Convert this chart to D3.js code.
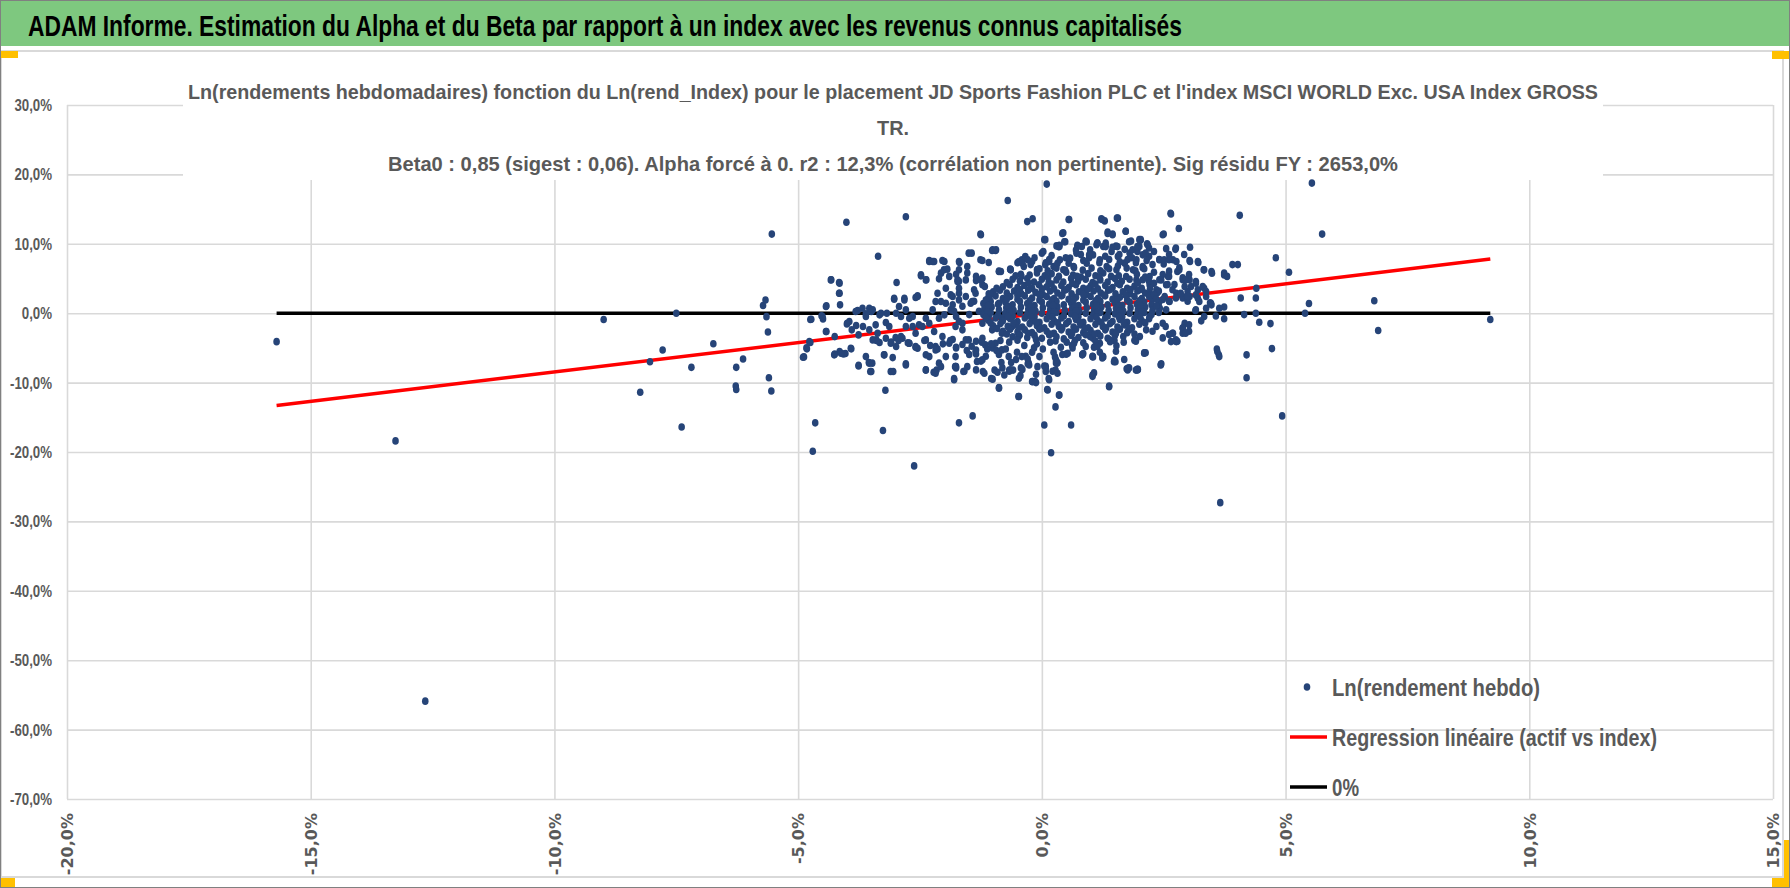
<!DOCTYPE html>
<html><head><meta charset="utf-8">
<script src="https://cdn.jsdelivr.net/npm/d3@7"></script>
<style>html,body{margin:0;padding:0;background:#fff;} svg{display:block;}</style>
</head><body>
<svg id="chart" width="1790" height="888"></svg>
<script>
const mainTitle = "ADAM Informe. Estimation du Alpha et du Beta par rapport à un index avec les revenus connus capitalisés";
const subtitleLines = [
  "Ln(rendements hebdomadaires) fonction du Ln(rend_Index) pour le placement JD Sports Fashion PLC et l'index MSCI WORLD Exc. USA Index GROSS",
  "TR.",
  "Beta0 : 0,85 (sigest : 0,06). Alpha forcé à 0. r2 : 12,3% (corrélation non pertinente). Sig résidu FY : 2653,0%"
];
const legendLabels = ["Ln(rendement hebdo)", "Regression linéaire (actif vs index)", "0%"];
const xTicks = [-20, -15, -10, -5, 0, 5, 10, 15];
const yTicks = [30, 20, 10, 0, -10, -20, -30, -40, -50, -60, -70];
const regressionLine = [[-15.7, -13.3], [9.2, 7.8]];
const zeroLine = [[-15.7, 0], [9.2, 0]];

// [Ln(rend_Index) %, Ln(rendement hebdo) %]
const outlierPoints = [
[-15.7,-4.1],[-13.26,-18.4],[-12.65,-55.9],[-8.99,-0.9],[-8.24,-11.4],[-8.04,-7.0],[-7.78,-5.3],[-7.5,0.0],[-7.39,-16.4],[-7.19,-7.8],[-6.74,-4.4],[-6.27,-7.8],[-6.13,-6.6],[-6.28,-10.5],[-6.27,-11.0],[-5.72,1.1],[-5.67,1.9],[-5.65,-0.5],[-5.62,-2.7],[-5.6,-9.3],[-5.55,-11.2],[-5.54,11.4],[-4.88,-6.3],[-4.83,-5.0],[-4.77,-4.1],[-4.75,-0.9],[-4.65,-15.8],[-4.70,-19.9],[-4.01,13.1],[-2.79,13.9],[-3.36,8.2],[-3.26,-16.9],[-2.62,-22.0],[-3.21,-11.1],[-1.70,-15.8],[-1.42,-14.8],[-0.88,-10.7],[-0.48,-12.0],[0.05,-16.1],[0.19,-20.1],[0.28,-13.5],[0.35,-11.8],[0.6,-16.1],[1.38,-10.5],[3.66,-27.3],[4.2,-9.3],[4.93,-14.8],[5.54,18.75],[5.75,11.4],[4.06,14.1],[0.1,18.6],[-0.7,16.25],[9.2,-0.9],[6.82,1.8],[6.9,-2.5],[-1.26,11.4],[-0.3,13.2],[-0.19,13.6],[0.05,10.6],[0.3,9.7]
];
const rightPoints = [
[2.64,14.4],[2.81,12.2],[2.5,11.4],[2.74,9.2],[3.04,9.5],[2.16,10.0],[2.2,9.4],[2.02,10.5],[1.72,11.8],[1.56,13.7],[1.22,13.6],[1.29,13.3],[0.56,13.5],[0.44,11.6],[0.48,10.3],[0.36,9.6],[0.92,10.3],[4.8,8.0],[5.07,5.9],[3.91,7.0],[3.74,5.8],[3.8,5.3],[3.48,6.0],[3.32,6.25],[3.21,7.3],[3.03,7.6],[4.4,3.6],[4.39,2.2],[4.08,2.2],[5.48,1.4],[5.4,0.0],[4.39,0.0],[4.15,-0.2],[4.46,-1.3],[4.69,-1.5],[3.74,0.9],[3.74,-0.8],[3.57,-0.4],[3.48,1.2],[3.45,1.5],[3.27,-1.1],[2.13,-5.7],[2.45,-7.3],[1.9,-3.9],[1.53,-4.7],[1.51,-7.0],[1.77,-7.9],[1.97,-8.1],[1.26,-6.3],[1.05,-6.3],[0.85,-5.8],[0.5,-5.9],[0.31,-7.2],[0.27,-6.3],[3.59,-5.15],[3.63,-6.0],[4.2,-6.0],[4.72,-5.1],[2.74,-4.0],[1.35,11.7],[1.45,11.4],
[2.55,4.09],[2.59,5.29],[2.41,4.81],[2.35,3.37],[2.21,2.88],[2.52,2.4],[2.62,1.68],[2.76,2.88],[2.82,6.25],[2.89,4.81],[2.93,3.85],[2.99,3.12],[3.03,4.81],[3.16,4.57],[3.2,3.37],[3.33,3.6],[3.37,2.4],[3.2,2.16],[3.03,2.4],[2.89,2.4],[3.37,0.72],[3.16,0.48],[3.33,-0.48],[3.15,0.38],[2.93,-1.44],[2.89,-2.88],[2.69,-2.88],[2.76,-4.09],[2.21,-0.48],[2.35,-1.92],[2.48,-1.44],[2.55,0.48],[2.28,0.96],[2.41,1.68],[2.07,1.44],[2.14,-2.4],[2.01,-3.37],[1.8,-2.4],[1.67,-3.37],[1.39,-3.85],[1.19,-4.33],[0.99,-3.37],[2.41,7.7],[2.69,7.7],[2.76,7.45],
[1.8,8.65],[1.94,7.7],[2.07,8.41],[1.87,6.25],[1.7,7.21],[1.56,8.17],[1.43,8.89],[1.26,9.62],[1.12,9.86],[0.99,9.13],[0.82,9.62],[0.71,8.65],[0.58,7.93],[0.37,7.69],[0.24,6.73],[0.44,6.25],[0.65,6.73],[0.92,7.21],[1.19,7.69],[1.33,6.73],[1.53,6.25],[1.73,5.29],[1.94,4.81],[2.07,4.81],[2.21,5.29],[2.21,4.09],[2.07,6.73],[2.01,3.37]
];
const haloPoints = [
[2.27,1.97],[2.48,1.97],[2.61,1.73],[2.75,2.2],[2.89,2.2],[2.99,1.73],[1.93,-4.04],[2.1,-5.7],[2.27,-2.6],[2.48,-3.56],[2.61,-3.08],[2.78,-4.04],[2.89,-2.1],[3.02,-2.6],[1.79,-7.88],[1.96,-8.1],[2.44,-7.4],
[-1.83,-3.8],[-1.76,-5.0],[-1.63,-4.5],[-1.49,-5.96],[-1.35,-4.04],[-1.25,-6.9],[-1.15,-6.2],[-1.01,-5.0],[-0.88,-5.96],[-0.81,-7.88],[-0.67,-8.37],[-0.53,-6.68],[-0.43,-7.88],[-0.33,-6.2],[-0.16,-5.0],[0.08,-7.64],[0.29,-7.16],[0.42,-5.96],[0.63,-5.0],[0.83,-5.96],[1.04,-6.2],[1.24,-6.44],[1.52,-5.48],[1.69,-6.68],[-1.76,-7.88],[-1.59,-8.37],[0.22,-8.37],[1.07,-8.6],
[0.36,9.8],[0.73,9.8],[0.9,10.4],[1.14,10.1],[1.31,10.1],[1.52,9.66],[1.83,10.4],[2.0,10.6],[1.96,8.9],[2.2,8.2],[2.61,8.46],[2.75,9.4],[2.92,8.46],
[-1.53,5.8],[-1.35,4.7],[-1.22,4.1],[-1.7,4.6],[-1.76,5.6],[-0.88,6.06],[-0.64,6.3],[-0.5,7.26],[-0.43,5.6],[-0.23,7.0],[-0.09,6.3],[0.08,7.26],[0.15,7.74],[0.29,6.8],[0.49,8.0],[0.8,8.46],[0.97,8.0],[1.18,7.26],[1.38,7.74],[1.59,8.46],[1.76,7.74],[1.93,7.26],[2.07,6.54],[2.27,7.0],[2.41,7.74],[2.48,5.58],[2.61,6.06],[2.82,6.54],[2.89,5.1],[3.02,5.58],[2.72,4.13],[2.58,4.13],[2.37,2.93],[2.2,4.6],
[-1.8,0.29],[-1.63,1.0],[-1.49,-0.2],[-1.7,-1.15],[-1.39,1.73],[-1.29,0.29]
];
const leftPoints = [
[-4.32,4.81],[-4.15,4.33],[-4.15,2.88],[-4.14,1.2],[-4.42,1.06],[-4.52,-0.38],[-4.49,-0.82],[-4.73,-0.87],[-4.42,-2.64],[-4.25,-3.37],[-4.75,-4.23],[-4.82,-5.14],[-4.9,-6.35],[-4.15,-5.53],[-4.07,-5.87],[-3.91,-5.14],[-3.95,-1.2],[-4.0,-1.54],[-3.81,-1.78],[-3.78,0.38],[-3.76,-3.13],[-3.54,0.72],[-3.5,0.24],[-3.61,-0.1],[-3.67,-1.92],[-3.54,-2.4],[-3.41,-1.68],[-3.4,-3.85],[-3.33,-4.23],[-3.2,-1.35],[-3.23,-6.0],[-3.06,-6.4],[-3.1,-4.33],[-3.0,-3.5],[-2.98,4.42],[-3.03,2.16],[-2.82,2.16],[-2.59,2.26],[-2.55,2.5],[-2.48,5.53],[-2.37,4.81],[-2.31,7.6],[-2.24,7.45],[-2.04,7.6],[-2.11,4.95],[-2.07,5.77],[-2.01,6.25],[-1.94,6.35],[-1.73,4.81],[-1.69,7.3],[-1.5,8.65],[-1.44,8.65],[-1.7,3.6],[-1.7,2.88],[-1.87,2.64],[-2.18,1.68],[-1.97,1.44],[-2.11,-0.72],[-2.38,-0.72],[-2.45,-1.92],[-2.65,-1.92],[-2.72,-0.72],[-2.79,0.48],[-2.89,-0.48],[-2.99,0.0],[-3.18,0.0],[-3.33,-0.24],[-2.86,-3.6],[-2.72,-4.33],[-2.59,-2.88],[-2.55,-5.05],[-2.38,-3.85],[-2.31,-6.25],[-2.18,-4.81],[-2.04,-3.37],[-2.11,-7.2],[-1.9,-4.33],[-1.77,-1.92],[-1.63,-2.4],[-1.5,-3.85],[-1.36,-5.53],[-1.22,-3.6],[-1.43,1.68],[-1.36,2.88],[-1.22,5.05],[-1.17,3.85],[-1.09,7.3],[-1.26,7.7],[-1.02,9.04],[-0.95,9.04],[-0.88,6.0],[-0.65,6.35],[-0.54,5.38],[-0.41,7.7],[-0.34,8.17],[-0.37,6.73],[-0.2,7.45],[-0.1,6.25],[0.0,8.65],[0.07,6.97],
[-1.09,2.79],[-0.88,1.44],[-0.68,0.48],[-0.82,-0.72],[-1.09,-0.48],[-1.22,-1.44],[-1.02,-2.4],[-0.82,-2.88],[-0.61,-1.92],[-0.48,-3.37],[-0.95,-4.33],[-1.16,-4.57],[-0.82,-5.29],[-0.68,-6.25],[-0.41,-6.25],[-0.27,-7.2],[-1.33,-6.97],[-1.77,-6.25],[-1.77,-7.7]
];
const lowerPoints = [
[-3.76,-7.5],[-3.52,-8.4],[-3.55,-7.1],[-3.48,-7.2],[-3.05,-8.4],[-2.79,-7.3],[-2.38,-8.2],[-2.22,-8.5],[-2.16,-8.2],[-1.8,-9.4],[-1.78,-7.7],[-1.61,-8.4],[-1.21,-8.4],[-1.04,-9.4],[-0.97,-8.2],[-0.91,-8.5],[-0.83,-7.1],[-0.63,-7.1],[-0.59,-8.2],[-0.67,-8.2],[-0.44,-9.0],[-0.4,-8.1],[-0.29,-7.3],[-0.2,-9.85],[-0.14,-9.85],[-0.12,-8.8],[0.05,-7.6],[0.08,-8.4],[0.11,-11.0],[0.14,-9.4],[0.28,-8.2],[0.32,-7.1],[1.04,-8.9],[1.49,-6.8],[1.74,-8.0],[1.93,-8.2],[1.25,-6.2],[-4.25,-5.9],[-4.03,-5.8],
[-3.39,-3.93],[-3.09,-4.17],[-2.94,-3.93],[-2.75,-4.27],[-2.59,-4.9],[-2.41,-3.93],[-2.29,-4.66],[-2.14,-5.15],[-2.03,-4.42],[-1.88,-3.93],[-1.76,-4.9],[-1.54,-5.39],[-1.44,-4.76],[-1.35,-5.87],[-1.23,-4.17],[-1.12,-5.15],[-1.04,-4.42],[-0.93,-5.39],[-0.85,-3.93],[-0.74,-5.15],[-0.67,-4.17],[-0.51,-5.63],[-0.36,-4.66],[-0.29,-6.6],[-0.2,-5.63],[-0.1,-4.42],[0.02,-5.15],[0.17,-4.17],[0.24,-5.63],[0.39,-4.9],[0.51,-4.17],[0.62,-4.66],[0.85,-4.27],[1.07,-4.9],[1.19,-5.63],[1.49,-3.93],[1.68,-4.17],[1.91,-3.93]
];
const corePoints = [
[-0.25,5.5],[-0.1,5.8],[0.06,5.4],[0.2,5.7],[0.35,5.3],[0.5,5.9],[0.64,5.5],[0.8,5.2],[0.95,5.7],[1.1,5.4],[1.26,5.8],[1.42,5.3],
[-0.6,4.9],[-0.45,4.6],[-0.3,5.0],[-0.16,4.5],[0.0,4.9],[0.14,4.4],[0.3,4.8],[0.44,4.5],[0.6,5.0],[0.74,4.6],[0.9,4.9],[1.04,4.4],[1.2,4.8],[1.35,4.5],[1.5,5.0],[1.64,4.6],[1.8,4.9],
[-0.8,3.8],[-0.66,4.1],[-0.5,3.7],[-0.36,4.0],[-0.2,3.6],[-0.06,4.1],[0.1,3.8],[0.25,3.5],[0.4,4.0],[0.55,3.7],[0.7,4.1],[0.85,3.6],[1.0,3.9],[1.15,3.5],[1.3,4.0],[1.45,3.7],[1.6,4.1],[1.75,3.6],[1.9,3.9],[2.05,3.6],
[-1.0,3.1],[-0.86,3.3],[-0.72,2.9],[-0.57,3.2],[-0.42,2.8],[-0.28,3.3],[-0.13,3.0],[0.02,2.7],[0.17,3.2],[0.32,2.9],[0.46,3.3],[0.61,2.8],[0.76,3.1],[0.91,2.7],[1.06,3.2],[1.21,2.9],[1.36,3.3],[1.51,2.8],[1.66,3.1],[1.81,2.8],[1.96,3.2],[2.12,2.9],
[-1.1,2.2],[-0.95,2.5],[-0.8,2.1],[-0.65,2.4],[-0.5,2.0],[-0.35,2.5],[-0.2,2.2],[-0.05,1.9],[0.1,2.4],[0.25,2.1],[0.4,2.5],[0.55,2.0],[0.7,2.3],[0.85,1.9],[1.0,2.4],[1.15,2.1],[1.3,2.5],[1.45,2.0],[1.6,2.3],[1.75,1.9],[1.9,2.4],[2.05,2.1],[2.2,2.4],
[-1.2,1.4],[-1.05,1.7],[-0.9,1.3],[-0.75,1.6],[-0.6,1.2],[-0.45,1.7],[-0.3,1.4],[-0.15,1.1],[0.0,1.6],[0.15,1.3],[0.3,1.7],[0.45,1.2],[0.6,1.5],[0.75,1.1],[0.9,1.6],[1.05,1.3],[1.2,1.7],[1.35,1.2],[1.5,1.5],[1.65,1.1],[1.8,1.6],[1.95,1.3],[2.1,1.6],[2.25,1.2],[2.4,1.5],
[-1.18,0.6],[-1.03,0.9],[-0.88,0.5],[-0.73,0.8],[-0.58,0.4],[-0.43,0.9],[-0.28,0.6],[-0.13,0.3],[0.02,0.8],[0.17,0.5],[0.32,0.9],[0.47,0.4],[0.62,0.7],[0.77,0.3],[0.92,0.8],[1.07,0.5],[1.22,0.9],[1.37,0.4],[1.52,0.7],[1.67,0.3],[1.82,0.8],[1.97,0.5],[2.12,0.9],[2.27,0.4],[2.42,0.7],
[-1.2,-0.2],[-1.05,0.1],[-0.9,-0.3],[-0.75,0.0],[-0.6,-0.4],[-0.45,0.1],[-0.3,-0.2],[-0.15,-0.5],[0.0,0.0],[0.15,-0.3],[0.3,0.1],[0.45,-0.4],[0.6,-0.1],[0.75,-0.5],[0.9,0.0],[1.05,-0.3],[1.2,0.1],[1.35,-0.4],[1.5,-0.1],[1.65,-0.5],[1.8,0.0],[1.95,-0.3],[2.1,0.1],[2.25,-0.2],
[-1.1,-1.0],[-0.95,-0.7],[-0.8,-1.1],[-0.65,-0.8],[-0.5,-1.2],[-0.35,-0.7],[-0.2,-1.0],[-0.05,-1.3],[0.1,-0.8],[0.25,-1.1],[0.4,-0.7],[0.55,-1.2],[0.7,-0.9],[0.85,-1.3],[1.0,-0.8],[1.15,-1.1],[1.3,-0.7],[1.45,-1.2],[1.6,-0.9],[1.75,-1.3],[1.9,-0.8],[2.05,-1.1],[2.2,-0.8],
[-1.0,-1.8],[-0.85,-1.5],[-0.7,-1.9],[-0.55,-1.6],[-0.4,-2.0],[-0.25,-1.5],[-0.1,-1.8],[0.05,-2.1],[0.2,-1.6],[0.35,-1.9],[0.5,-1.5],[0.65,-2.0],[0.8,-1.7],[0.95,-2.1],[1.1,-1.6],[1.25,-1.9],[1.4,-1.5],[1.55,-2.0],[1.7,-1.7],[1.85,-2.1],[2.0,-1.6],
[-0.8,-2.6],[-0.65,-2.3],[-0.5,-2.7],[-0.35,-2.4],[-0.2,-2.8],[-0.05,-2.3],[0.1,-2.6],[0.25,-2.9],[0.4,-2.4],[0.55,-2.7],[0.7,-2.3],[0.85,-2.8],[1.0,-2.5],[1.15,-2.9],[1.3,-2.4],[1.45,-2.7],[1.6,-2.3],[1.75,-2.8],
[-0.6,-3.4],[-0.45,-3.1],[-0.3,-3.5],[-0.15,-3.2],[0.0,-3.6],[0.15,-3.1],[0.3,-3.4],[0.45,-3.7],[0.6,-3.2],[0.75,-3.5],[0.9,-3.1],[1.05,-3.6],[1.2,-3.3],[1.35,-3.6],[1.5,-3.2]
];
const coreFillPoints = [
[-0.05,6.4],[0.12,6.1],[0.3,6.5],[0.48,6.2],[0.66,6.6],[0.84,6.2],[1.02,6.5],[1.2,6.1],[1.38,6.4],[1.56,6.8],[1.74,6.5],[1.92,6.1],[2.1,6.4],
[-0.42,5.3],[0.13,5.1],[0.72,5.3],[1.18,5.2],[1.58,5.4],[1.95,5.6],[2.3,5.9],[2.12,5.2],
[-0.72,4.4],[-0.27,4.3],[0.2,4.2],[0.62,4.3],[1.1,4.2],[1.55,4.3],[1.97,4.4],[2.3,4.3],[2.45,4.8],
[-0.93,3.6],[-0.45,3.4],[0.0,3.5],[0.5,3.4],[0.95,3.5],[1.4,3.4],[1.82,3.4],[2.22,3.6],[2.4,3.2],
[-1.05,2.7],[-0.5,2.6],[-0.05,2.7],[0.42,2.6],[0.85,2.7],[1.28,2.6],[1.72,2.6],[2.3,2.7],
[-1.15,1.9],[-0.72,2.0],[-0.25,1.8],[0.2,1.9],[0.65,1.9],[1.1,1.8],[1.55,1.9],[2.0,1.8],[2.35,2.0],
[-1.1,1.1],[-0.68,1.0],[-0.22,1.0],[0.23,1.1],[0.68,1.0],[1.12,1.1],[1.58,1.0],[2.02,1.1],[2.35,1.0],
[-1.12,0.2],[-0.66,0.2],[-0.2,0.3],[0.25,0.2],[0.7,0.3],[1.15,0.2],[1.6,0.3],[2.05,0.2],[2.4,0.1],
[-1.15,-0.6],[-0.7,-0.5],[-0.22,-0.6],[0.22,-0.6],[0.68,-0.5],[1.12,-0.6],[1.58,-0.5],[2.02,-0.6],
[-1.05,-1.4],[-0.58,-1.4],[-0.12,-1.3],[0.33,-1.4],[0.78,-1.4],[1.22,-1.3],[1.68,-1.4],[2.12,-1.4],
[-0.92,-2.2],[-0.48,-2.1],[-0.02,-2.2],[0.42,-2.1],[0.88,-2.2],[1.32,-2.1],[1.78,-2.2],
[-0.72,-3.0],[-0.28,-2.9],[0.18,-3.0],[0.62,-2.9],[1.08,-3.0],[1.52,-2.9],[1.9,-3.0],
[-0.5,-3.9],[-0.12,-3.8],[0.28,-4.0],[0.68,-3.9],[1.1,-4.0],[1.4,-4.1],
[0.55,7.2],[0.85,7.6],[1.05,8.4],[1.3,8.2],[1.6,7.4],[1.85,8.0],[2.15,7.6],[2.5,7.1],[2.3,8.9],[1.7,9.2],[1.45,9.5],[2.0,9.6],[2.55,9.3],[0.7,9.1],[0.2,8.3],[-0.15,8.0]
];
const cloudExtraPoints = [
[-4.33,4.8],[-4.16,4.42],[-4.16,2.88],[-4.43,0.96],[-4.5,-0.48],[-4.43,-2.64],[-4.26,-6.0],[-4.12,-5.77],[-3.92,-5.05],[-3.76,-7.6],[-3.61,-6.25],[-3.54,-7.2],[-3.5,-8.4],[-3.99,-1.44],[-3.9,-2.4],[-3.82,0.24],[-3.68,0.72],[-3.61,-0.48],[-3.47,0.48],[-3.3,0.0],[-3.24,-6.0],[-3.1,-8.4],[-3.03,2.0],[-2.93,0.96],[-2.82,1.92],[-2.79,-7.45],[-2.72,-4.33],[-2.59,-4.81],[-2.55,2.4],[-2.48,5.38],[-2.38,4.8],[-2.31,7.45],[-2.21,7.45],[-2.14,2.88],[-2.07,1.68],[-2.0,7.45],[-1.97,3.6],[-1.9,5.3],[-1.83,1.2],[-1.8,-9.6],[-1.76,-7.7],[-1.73,4.57],[-1.7,7.45],[-1.63,-1.44],[-1.56,-3.85],[-1.46,1.44],[-1.39,3.37],[-1.25,11.3],[-1.22,7.6],[-1.35,-5.3],[-1.22,-6.7],
[-2.31,-1.44],[-2.21,-2.64],[-2.52,-1.68],[-2.65,-0.48],[-2.79,-1.92],[-2.89,-3.37],[-2.99,-4.8],[-3.13,-1.92],[-3.2,-3.6],[-3.37,-2.88],[-3.47,-3.85],[-2.18,-5.29],[-1.97,-6.25],[-2.07,-7.7],[-2.18,-8.65],[-2.38,-6.0],[-2.38,-8.17],[-2.24,0.48],[-2.0,-0.24],[-1.87,0.48],[-1.76,-0.48],[-1.7,1.92],[-1.56,2.4],[-1.83,2.4],[-1.56,4.8],[-1.35,5.3],[-1.25,4.8],[-1.53,6.73],[-1.7,6.25],
[2.51,7.7],[2.61,7.7],[2.48,11.3],[2.65,14.3],[3.04,7.45],[3.2,7.45],[3.33,6.25],[3.49,5.77],[3.74,5.5],[4.02,7.0],[2.61,5.3],[2.78,6.0],[2.95,4.8],[3.06,3.85],[3.16,4.33],[3.3,3.85],[2.68,3.37],[2.85,2.88],[2.99,2.4],[3.16,2.64],[3.37,3.12],[3.23,1.68],[3.47,1.44],[3.64,0.72],[2.54,-1.92],[2.68,-2.88],[2.89,-2.16],[3.02,-1.68],[2.65,-4.09],[2.75,-3.85],[2.95,-2.88],[2.44,-7.45],[3.6,-5.53],[3.64,-6.25],[2.1,-5.77],[1.96,-8.17],[1.76,-8.17],[1.38,-10.6],[1.04,-9.1],[1.48,-7.0],
[-0.88,-10.8],[-0.47,-12.0],[-0.19,-9.86],[-0.12,-10.0],[0.12,-11.06],[0.36,-11.8],[0.15,-9.6],[0.32,-8.65],[0.08,-7.93],[-0.47,-9.38],[-0.64,-8.17],[-0.77,-8.9],[-1.01,-9.5],[-1.18,-8.65],[-1.35,-8.17],[-1.53,-7.7],[-0.26,-7.45],[-0.09,-7.7],[-0.05,-6.25],[0.29,-6.73],[0.53,-5.77],[0.83,-6.0],[1.04,-6.25],[1.24,-6.25],[0.66,-4.33],[0.9,-4.8],[1.14,-4.8],
[-1.01,9.13],[-0.94,9.13],[-0.84,6.0],[-0.64,6.25],[-0.47,7.45],[-0.4,7.2],[-0.29,7.7],[0.03,8.9],[0.07,10.6],[0.15,7.45],[0.32,7.2],[0.34,9.6],[0.42,11.5],[0.46,10.3],[0.55,13.5],[0.73,9.6],[0.9,10.3],[0.97,8.4],[1.14,10.1],[1.24,13.5],[1.31,9.6],[1.35,11.5],[1.45,11.3],[1.54,13.7],[1.55,9.6],[1.72,11.8],[1.79,10.3],[1.86,9.13],[1.96,9.6],[2.03,10.6],[2.17,9.86],[2.13,8.65]
];

const allPoints = [].concat(outlierPoints, rightPoints, haloPoints, leftPoints, lowerPoints, corePoints, coreFillPoints, cloudExtraPoints);

// ---------- layout ----------
const W = 1790, H = 888;
const plot = {left: 67, right: 1773, top: 105, bottom: 799};
const FONT = "'Liberation Sans','Arial',sans-serif";
const GRAY = "#595959";
const DOT = "#264478";

const svg = d3.select("#chart");
svg.append("rect").attr("x",0).attr("y",0).attr("width",W).attr("height",H).attr("fill","#fff");

// title bar
svg.append("rect").attr("x",0).attr("y",0).attr("width",W).attr("height",46).attr("fill","#7ec87f");
svg.append("text").text(mainTitle)
  .attr("x",28).attr("y",36)
  .attr("font-family",FONT).attr("font-weight","bold").attr("font-size",29)
  .attr("fill","#000")
  .attr("textLength",1154).attr("lengthAdjust","spacingAndGlyphs");

// chart area frame
svg.append("rect").attr("x",1).attr("y",51).attr("width",1782).attr("height",826)
  .attr("fill","none").attr("stroke","#d9d9d9").attr("stroke-width",2);

const x = d3.scaleLinear().domain([-20, 15]).range([plot.left, plot.right]);
const y = d3.scaleLinear().domain([-70, 30]).range([plot.bottom, plot.top]);
const fmt = v => v.toFixed(1).replace(".", ",") + "%";

function condense(sel, k) {
  sel.each(function() {
    const w = this.getComputedTextLength();
    d3.select(this).attr("textLength", w * k).attr("lengthAdjust", "spacingAndGlyphs");
  });
}

// y axis with gridlines
const yAxis = svg.append("g").attr("transform",`translate(${plot.left},0)`)
  .call(d3.axisLeft(y).tickValues(yTicks).tickFormat(fmt)
    .tickSize(-(plot.right - plot.left)).tickPadding(15));
yAxis.select(".domain").remove();
yAxis.selectAll("line").attr("stroke","#d9d9d9").attr("stroke-width",1.6);
yAxis.selectAll("text").attr("font-family",FONT).attr("font-weight","bold")
  .attr("font-size",17).attr("fill",GRAY).call(condense, 0.78);

// x axis with gridlines
const xAxis = svg.append("g").attr("transform",`translate(0,${plot.bottom})`)
  .call(d3.axisBottom(x).tickValues(xTicks).tickFormat(fmt)
    .tickSize(-(plot.bottom - plot.top)));
xAxis.select(".domain").remove();
xAxis.selectAll("line").attr("stroke","#d9d9d9").attr("stroke-width",1.6);
xAxis.selectAll("text")
  .attr("transform","rotate(-90)")
  .attr("x",-14).attr("y",0).attr("dy","0.36em")
  .attr("text-anchor","end")
  .attr("font-family","'DejaVu Sans',Verdana,sans-serif").attr("font-weight","bold")
  .attr("font-size",16).attr("fill",GRAY);

// subtitle block (white background)
svg.append("rect").attr("x",183).attr("y",60).attr("width",1420).attr("height",120).attr("fill","#fff");
const subW = [1410, 32, 1010];
subtitleLines.forEach((t,i) => {
  svg.append("text").text(t)
    .attr("x",893).attr("y",99 + i*36)
    .attr("text-anchor","middle")
    .attr("font-family",FONT).attr("font-weight","bold").attr("font-size",21)
    .attr("fill",GRAY)
    .attr("textLength",subW[i]).attr("lengthAdjust","spacingAndGlyphs");
});

// lines
const line = d3.line().x(d => x(d[0])).y(d => y(d[1]));
svg.append("path").datum(zeroLine).attr("d",line)
  .attr("stroke","#000").attr("stroke-width",3.5).attr("fill","none");
svg.append("path").datum(regressionLine).attr("d",line)
  .attr("stroke","#ff0000").attr("stroke-width",3.5).attr("fill","none");

// points
svg.append("g").selectAll("ellipse").data(allPoints).join("ellipse")
  .attr("cx",d => x(d[0])).attr("cy",d => y(d[1]))
  .attr("rx",3.3).attr("ry",3.8).attr("fill",DOT);

// legend
const lg = svg.append("g");
const lgW = [208, 325, 27];
legendLabels.forEach((t,i) => {
  const by = 696 + i*50;
  if (i === 0) {
    lg.append("ellipse").attr("cx",1307).attr("cy",by-9).attr("rx",3.3).attr("ry",3.8).attr("fill",DOT);
  } else {
    lg.append("line").attr("x1",1290).attr("x2",1327).attr("y1",by-9).attr("y2",by-9)
      .attr("stroke", i === 1 ? "#ff0000" : "#000").attr("stroke-width",3.5);
  }
  lg.append("text").text(t).attr("x",1332).attr("y",by)
    .attr("font-family",FONT).attr("font-weight","bold").attr("font-size",24)
    .attr("fill",GRAY)
    .attr("textLength",lgW[i]).attr("lengthAdjust","spacingAndGlyphs");
});

// selection handles and outer border
svg.append("rect").attr("x",0).attr("y",51).attr("width",18).attr("height",7).attr("fill","#ffc000");
svg.append("rect").attr("x",1772).attr("y",51).attr("width",18).attr("height",8).attr("fill","#ffc000");
svg.append("rect").attr("x",0).attr("y",878).attr("width",15).attr("height",10).attr("fill","#ffc000");
svg.append("rect").attr("x",1784).attr("y",840).attr("width",6).attr("height",48).attr("fill","#ffc000");
svg.append("rect").attr("x",1772).attr("y",878).attr("width",18).attr("height",10).attr("fill","#ffc000");
svg.append("rect").attr("x",0.5).attr("y",0.5).attr("width",W-1).attr("height",H-1)
  .attr("fill","none").attr("stroke","#808080").attr("stroke-width",1);
</script>
</body></html>
